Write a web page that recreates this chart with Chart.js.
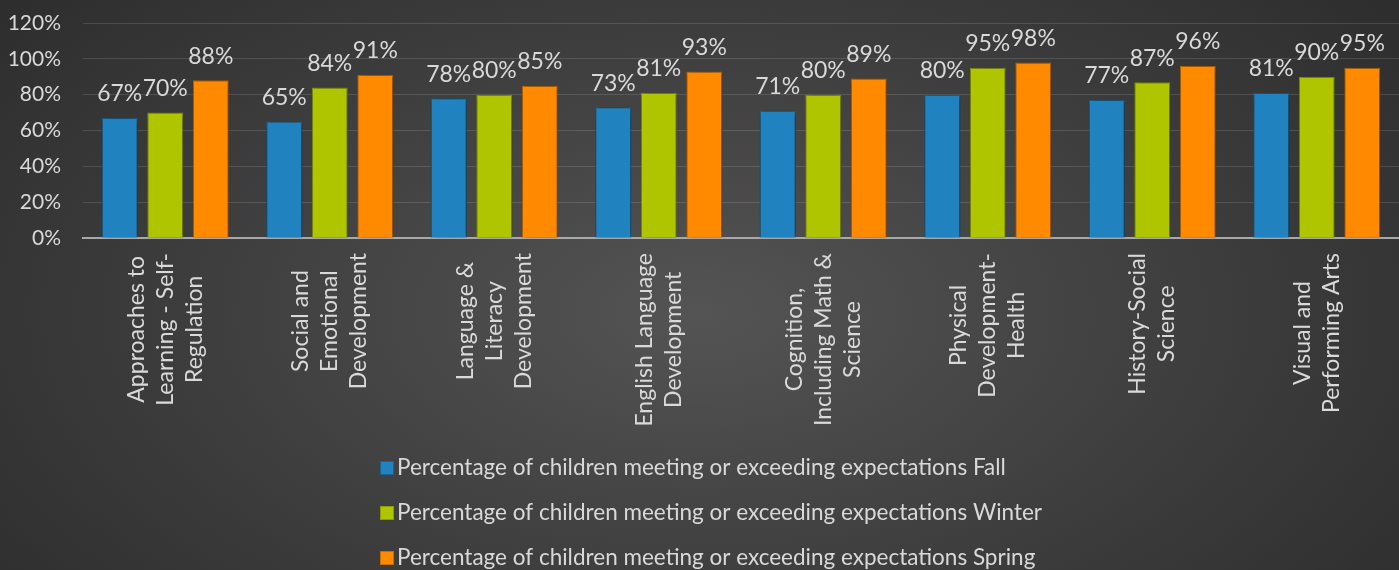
<!DOCTYPE html>
<html>
<head>
<meta charset="utf-8">
<script src="https://cdn.jsdelivr.net/npm/chart.js@4/dist/chart.umd.min.js"></script>
<style>
  html, body { margin: 0; padding: 0; }
  body {
    width: 1399px; height: 570px; overflow: hidden;
    background: radial-gradient(ellipse 70% 95% at 50% 55%, #545454 0%, #3c3c3c 55%, #2a2a2a 100%);
  }
  #wrap { position: relative; width: 1399px; height: 570px; }
</style>
</head>
<body>
<div id="wrap"><canvas id="chart" width="1399" height="570"></canvas></div>
<script>
// category names, one entry per line of the rotated label
const categories = [
  ['Approaches to', 'Learning - Self-', 'Regulation'],
  ['Social and', 'Emotional', 'Development'],
  ['Language &', 'Literacy', 'Development'],
  ['English Language', 'Development'],
  ['Cognition,', 'Including Math &', 'Science'],
  ['Physical', 'Development-', 'Health'],
  ['History-Social', 'Science'],
  ['Visual and', 'Performing Arts']
];
const seriesNames = [
  'Percentage of children meeting or exceeding expectations Fall',
  'Percentage of children meeting or exceeding expectations Winter',
  'Percentage of children meeting or exceeding expectations Spring'
];
const fall   = [67, 65, 78, 73, 71, 80, 77, 81];
const winter = [70, 84, 80, 81, 80, 95, 87, 90];
const spring = [88, 91, 85, 93, 89, 98, 96, 95];
const yTicks = [0, 20, 40, 60, 80, 100, 120];

const FONT = 'Lato, "Open Sans", sans-serif';
const TEXT = '#d9d9d9';

/**
 * Drop shadow behind the bars, like the Office theme
 */
const barShadowPlugin = {
  id: 'barShadow',
  beforeDatasetsDraw(chart) {
    const ctx = chart.ctx;
    ctx.save();
    ctx.shadowColor = 'rgba(0, 0, 0, 0.55)';
    ctx.shadowBlur = 8;
    ctx.shadowOffsetX = 1;
    ctx.shadowOffsetY = 1;
  },
  afterDatasetsDraw(chart) {
    chart.ctx.restore();
  }
};

/**
 * Value labels above every bar
 */
const valueLabelPlugin = {
  id: 'valueLabels',
  afterDatasetsDraw(chart) {
    const ctx = chart.ctx;
    ctx.save();
    ctx.font = '23px ' + FONT;
    ctx.fillStyle = TEXT;
    ctx.textAlign = 'center';
    ctx.textBaseline = 'middle';
    chart.data.datasets.forEach((ds, i) => {
      const meta = chart.getDatasetMeta(i);
      meta.data.forEach((bar, j) => {
        ctx.fillText(ds.data[j] + '%', bar.x, bar.y - 24);
      });
    });
    ctx.restore();
  }
};

/**
 * Rotated, centred multi-line category labels under the axis
 */
const categoryLabelPlugin = {
  id: 'categoryLabels',
  afterDraw(chart) {
    const ctx = chart.ctx;
    const xScale = chart.scales.x;
    const top = chart.chartArea.bottom + 15;
    const lineGap = 29;
    ctx.save();
    ctx.font = '23px ' + FONT;
    ctx.fillStyle = TEXT;
    ctx.textAlign = 'center';
    ctx.textBaseline = 'middle';
    categories.forEach((lines, i) => {
      const cx = xScale.getPixelForValue(i);
      const maxW = Math.max(...lines.map(l => ctx.measureText(l).width));
      const cy = top + maxW / 2;
      lines.forEach((line, j) => {
        ctx.save();
        ctx.translate(cx + (j - (lines.length - 1) / 2) * lineGap, cy);
        ctx.rotate(-Math.PI / 2);
        ctx.fillText(line, 0, 0);
        ctx.restore();
      });
    });
    ctx.restore();
  }
};

/**
 * Legend stacked in one column below the labels
 */
const stackedLegendPlugin = {
  id: 'stackedLegend',
  afterDraw(chart) {
    const ctx = chart.ctx;
    const left = 380;
    const rows = [468, 513, 558];
    ctx.save();
    ctx.font = '22.5px ' + FONT;
    ctx.textAlign = 'left';
    ctx.textBaseline = 'middle';
    chart.data.datasets.forEach((ds, i) => {
      const y = rows[i];
      ctx.fillStyle = ds.backgroundColor;
      ctx.fillRect(left, y - 7, 14, 14);
      ctx.strokeStyle = ds.borderColor;
      ctx.lineWidth = 1;
      ctx.strokeRect(left + 0.5, y - 6.5, 13, 13);
      ctx.fillStyle = TEXT;
      ctx.fillText(ds.label, left + 17, y);
    });
    ctx.restore();
  }
};

new Chart(document.getElementById('chart'), {
  type: 'bar',
  data: {
    labels: categories.map(l => l.join(' ')),
    datasets: [
      { label: seriesNames[0], data: fall,   backgroundColor: '#2083c0', borderColor: '#1a6494', borderWidth: 1 },
      { label: seriesNames[1], data: winter, backgroundColor: '#aec500', borderColor: '#8c9f00', borderWidth: 1 },
      { label: seriesNames[2], data: spring, backgroundColor: '#ff8a00', borderColor: '#c86b00', borderWidth: 1 }
    ]
  },
  options: {
    responsive: false,
    animation: false,
    layout: { padding: { top: 23, right: 0, bottom: 332, left: 0 } },
    datasets: { bar: { categoryPercentage: 0.83, barPercentage: 0.79 } },
    plugins: {
      legend: { display: false },
      tooltip: { enabled: false }
    },
    scales: {
      x: {
        grid: { display: false, drawTicks: false },
        border: { display: true, color: '#a8a8a8', width: 2 },
        ticks: { display: false },
        afterFit(scale) {
          scale.height = 0;
          scale.paddingLeft = 0;
          scale.paddingRight = 0;
        }
      },
      y: {
        min: 0,
        max: 120,
        afterBuildTicks(scale) { scale.ticks = yTicks.map(v => ({ value: v })); },
        grid: { color: 'rgba(255, 255, 255, 0.13)', drawTicks: false, lineWidth: 1 },
        border: { display: false },
        ticks: {
          color: TEXT,
          font: { size: 21, family: FONT },
          padding: 22,
          callback: v => v + '%'
        },
        afterFit(scale) {
          scale.width = 83;
          scale.paddingTop = 0;
          scale.paddingBottom = 0;
        }
      }
    }
  },
  plugins: [barShadowPlugin, valueLabelPlugin, categoryLabelPlugin, stackedLegendPlugin]
});
</script>
</body>
</html>
